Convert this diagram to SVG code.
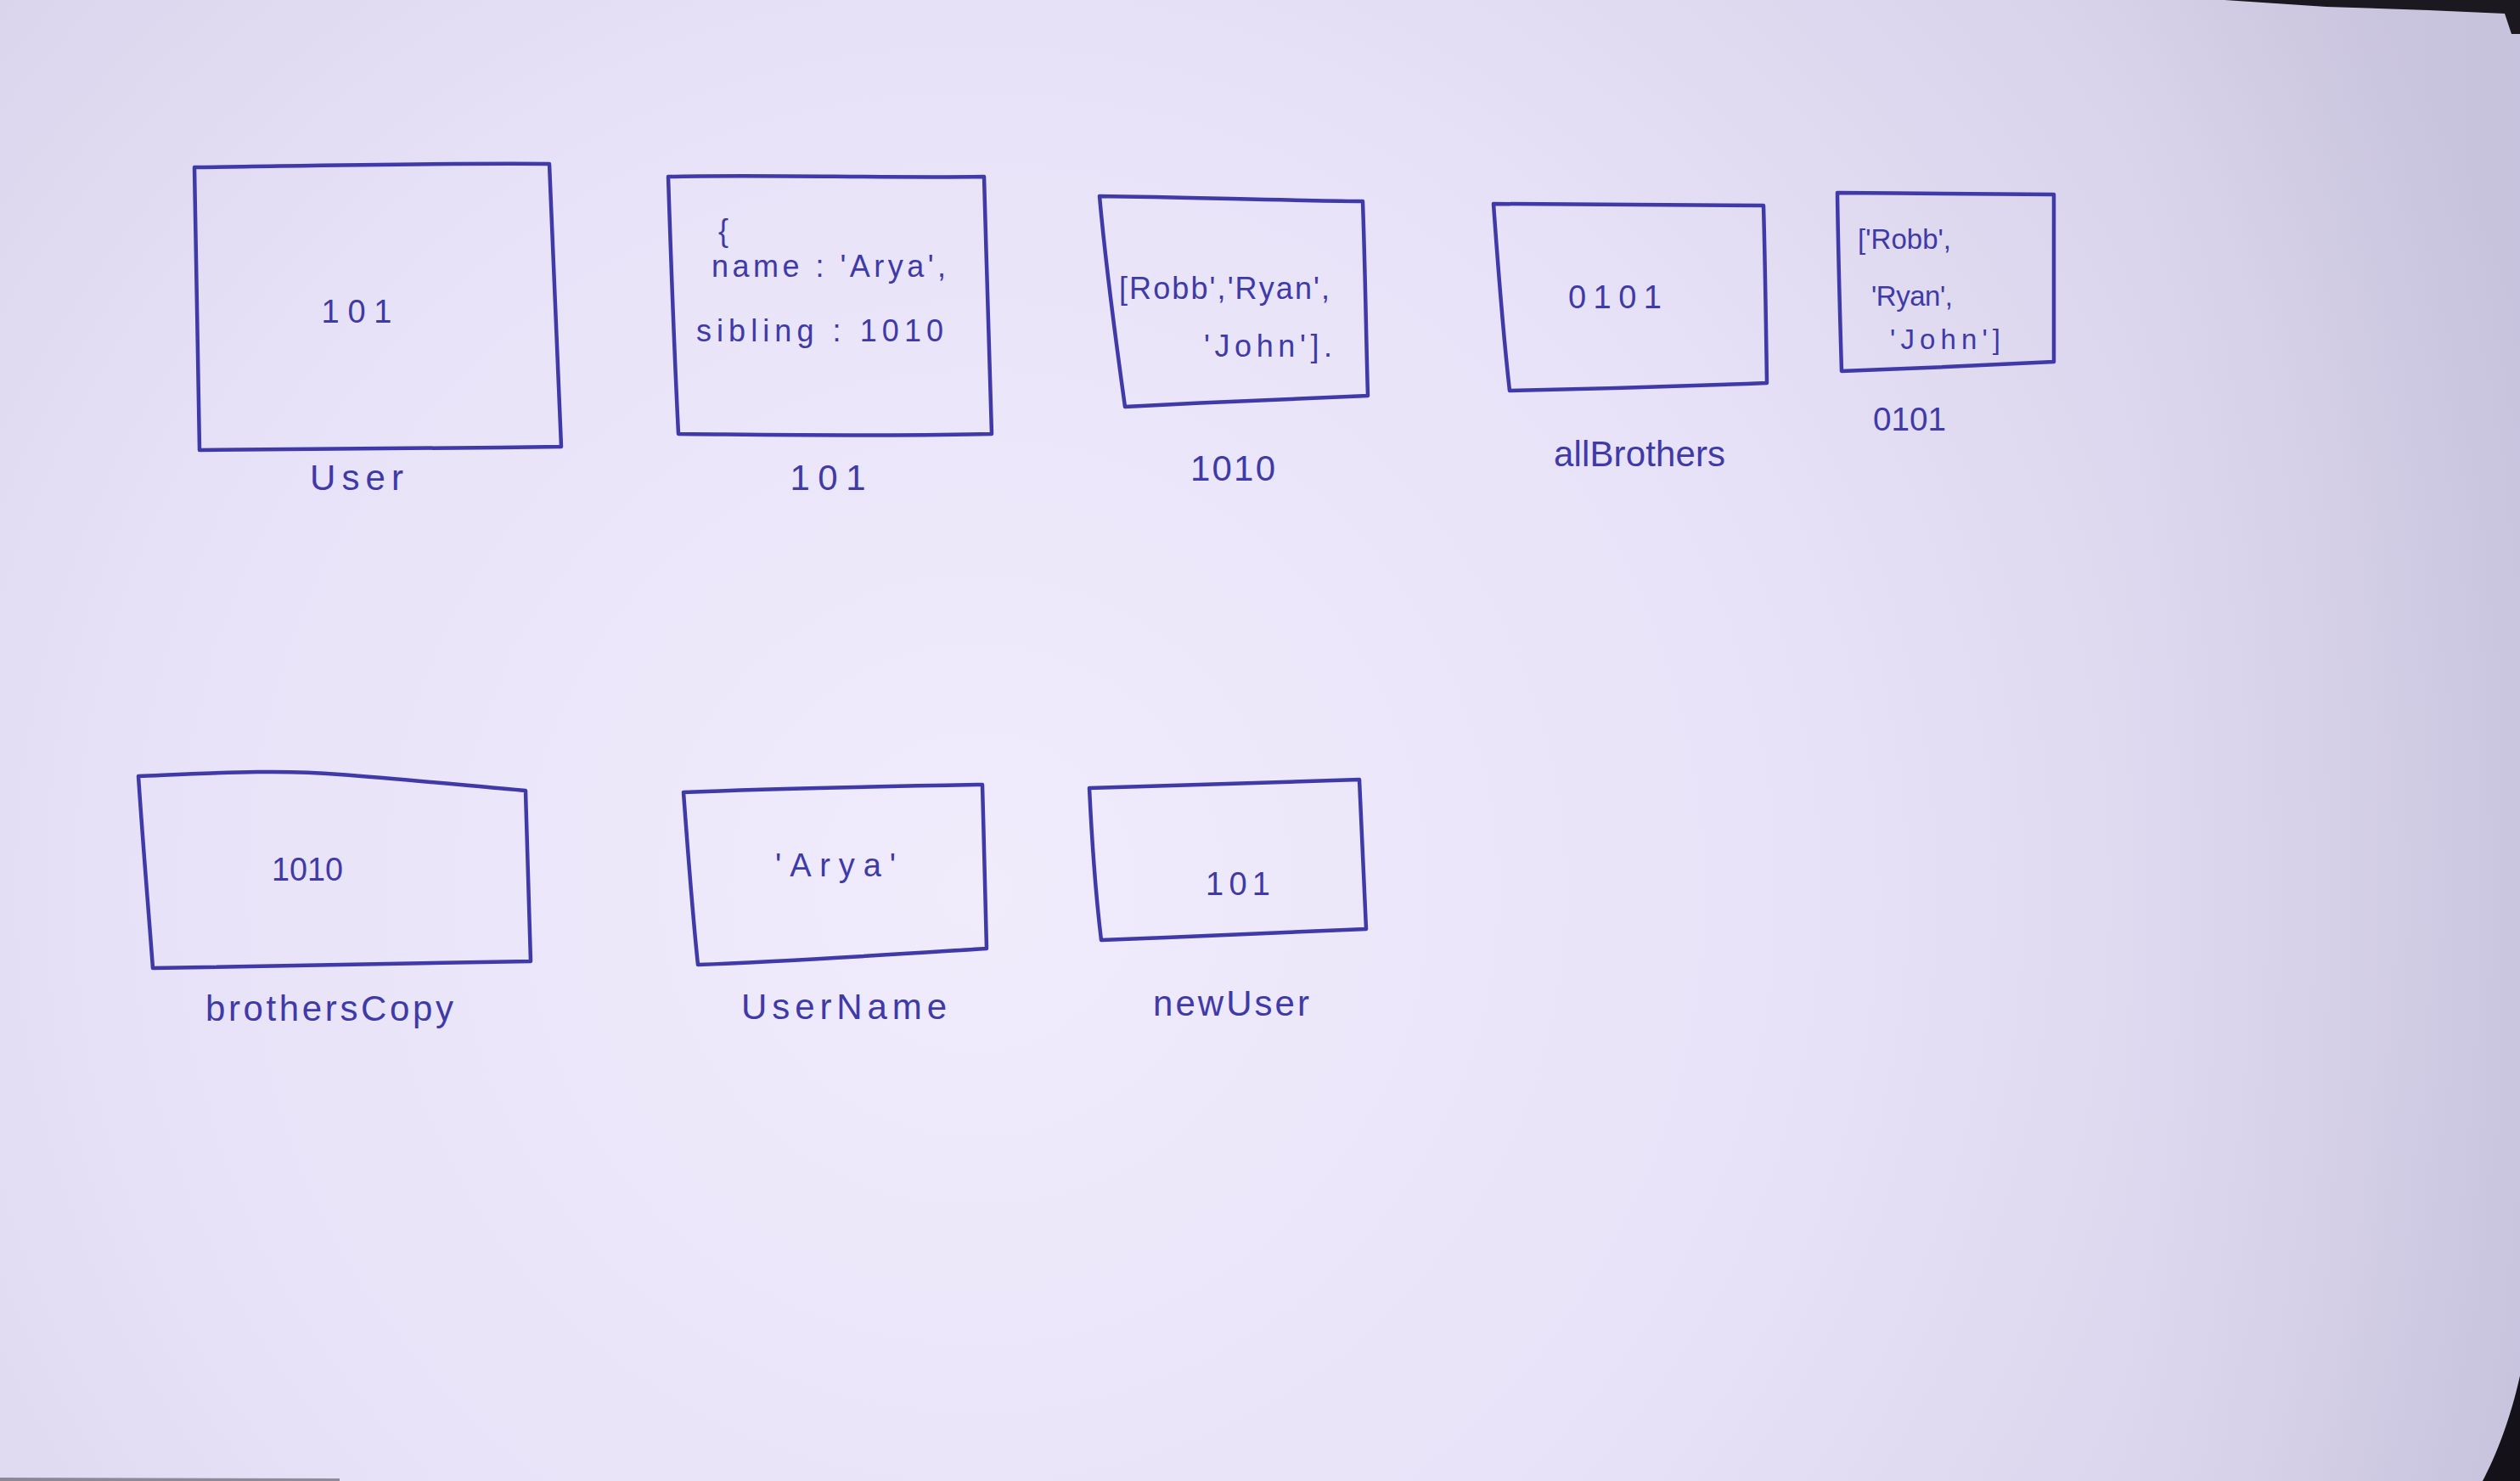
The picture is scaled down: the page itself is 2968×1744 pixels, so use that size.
<svg xmlns="http://www.w3.org/2000/svg" width="2968" height="1744" viewBox="0 0 2968 1744">
  <defs>
    <radialGradient id="paper" cx="1150" cy="1050" r="1950" gradientUnits="userSpaceOnUse">
      <stop offset="0" stop-color="#f0ecfc"/>
      <stop offset="0.5" stop-color="#e7e2f7"/>
      <stop offset="0.85" stop-color="#d8d3ea"/>
      <stop offset="1" stop-color="#cbc5de"/>
    </radialGradient>
    <linearGradient id="rightShade" x1="0" y1="0" x2="1" y2="0">
      <stop offset="0" stop-color="#cfcbe4" stop-opacity="0"/>
      <stop offset="1" stop-color="#c4c0dc" stop-opacity="0.5"/>
    </linearGradient>
    <style>
      .box { fill: none; stroke: #3f3aa8; stroke-width: 4.5; stroke-linejoin: round; stroke-linecap: round; }
      .ink { fill: #3f3aa8; font-family: "Liberation Sans", "DejaVu Sans", sans-serif; }
      .val { font-size: 38px; }
      .lbl { font-size: 42px; }
      .code { font-size: 36px; }
      .small { font-size: 33px; }
    </style>
  </defs>

  <!-- sheet of paper -->
  <rect x="0" y="0" width="2968" height="1744" fill="url(#paper)"/>
  <rect x="2500" y="0" width="468" height="1744" fill="url(#rightShade)"/>
  <!-- table showing at the sheet edges -->
  <path d="M2620 0 H2968 V40 L2958 40 L2950 16 L2860 12 L2740 8 Z" fill="#1c1820"/>
  <path d="M2968 1620 C2957 1670 2940 1714 2924 1744 H2968 Z" fill="#141218"/>
  <path d="M0 1740 L400 1741 L400 1744 L0 1744 Z" fill="#3a3640" opacity="0.5"/>

  <!-- top row -->
  <g id="node-user">
    <path class="box" d="M229 197 C330 196 480 192 647 193 C652 300 656 420 661 526 C520 528 380 529 235 530 C233 420 231 300 229 197 Z"/>
    <text class="ink val" x="420" y="380" text-anchor="middle" textLength="83">101</text>
    <text class="ink lbl" x="420" y="577" text-anchor="middle" textLength="110">User</text>
  </g>

  <g id="node-101">
    <path class="box" d="M787 208 C900 205 1040 210 1159 208 C1162 310 1165 420 1168 511 C1060 514 920 512 799 511 C794 410 790 300 787 208 Z"/>
    <text class="ink code" x="846" y="284">{</text>
    <text class="ink code" x="838" y="326" textLength="276">name : 'Arya',</text>
    <text class="ink code" x="820" y="402" textLength="291">sibling : 1010</text>
    <text class="ink lbl" x="975" y="577" text-anchor="middle" textLength="89">101</text>
  </g>

  <g id="node-1010">
    <path class="box" d="M1295 231 C1400 232 1500 236 1605 237 C1608 320 1609 400 1611 466 C1510 470 1420 474 1325 479 C1314 400 1302 310 1295 231 Z"/>
    <text class="ink code" x="1318" y="352" textLength="248">[Robb','Ryan',</text>
    <text class="ink code" x="1418" y="420" textLength="151">'John'].</text>
    <text class="ink lbl" x="1452" y="566" text-anchor="middle" textLength="100">1010</text>
  </g>

  <g id="node-allBrothers">
    <path class="box" d="M1759 240 C1870 241 1980 241 2077 242 C2079 310 2080 390 2081 451 C1980 455 1880 458 1778 460 C1770 390 1764 310 1759 240 Z"/>
    <text class="ink val" x="1902" y="363" text-anchor="middle" textLength="110">0101</text>
    <text class="ink lbl" x="1931" y="549" text-anchor="middle" textLength="202">allBrothers</text>
  </g>

  <g id="node-0101">
    <path class="box" d="M2164 227 C2250 228 2340 228 2419 229 C2419 300 2419 370 2419 426 C2340 430 2250 434 2169 437 C2167 370 2165 300 2164 227 Z"/>
    <text class="ink small" x="2188" y="293" textLength="110">['Robb',</text>
    <text class="ink small" x="2204" y="360" textLength="96">'Ryan',</text>
    <text class="ink small" x="2226" y="411" textLength="130">'John']</text>
    <text class="ink val" x="2249" y="507" text-anchor="middle" textLength="86" lengthAdjust="spacingAndGlyphs">0101</text>
  </g>

  <!-- bottom row -->
  <g id="node-brothersCopy">
    <path class="box" d="M163 914 C260 910 330 906 400 912 C480 918 560 926 619 931 C621 1000 623 1070 625 1132 C480 1134 330 1136 180 1140 C174 1060 168 990 163 914 Z"/>
    <text class="ink val" x="362" y="1037" text-anchor="middle" textLength="84" lengthAdjust="spacingAndGlyphs">1010</text>
    <text class="ink lbl" x="388" y="1202" text-anchor="middle" textLength="292">brothersCopy</text>
  </g>

  <g id="node-userName">
    <path class="box" d="M805 933 C920 928 1040 926 1157 924 C1159 990 1160 1060 1162 1117 C1050 1124 930 1132 822 1136 C815 1070 810 1000 805 933 Z"/>
    <text class="ink val" x="984" y="1032" text-anchor="middle" textLength="142">'Arya'</text>
    <text class="ink lbl" x="994" y="1200" text-anchor="middle" textLength="242">UserName</text>
  </g>

  <g id="node-newUser">
    <path class="box" d="M1283 928 C1390 925 1500 921 1601 918 C1604 980 1607 1040 1609 1094 C1500 1099 1400 1103 1297 1107 C1290 1050 1286 990 1283 928 Z"/>
    <text class="ink val" x="1458" y="1054" text-anchor="middle" textLength="76">101</text>
    <text class="ink lbl" x="1450" y="1196" text-anchor="middle" textLength="184">newUser</text>
  </g>

  <!-- no arrows are drawn between the cells -->
  <g id="connectors"></g>
</svg>
